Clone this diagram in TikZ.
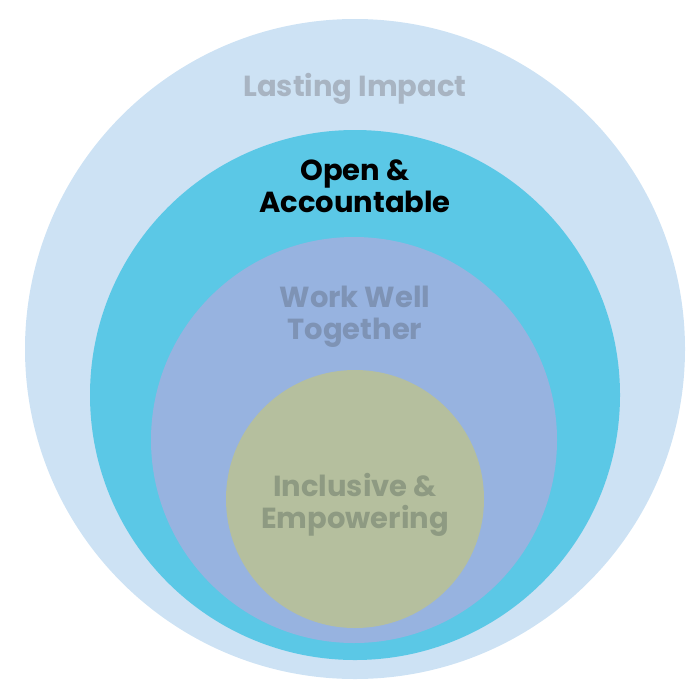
\documentclass[tikz,border=0pt]{standalone}
\usepackage{fontspec}
\setmainfont{Poppins}[BoldFont={* Bold}]
\definecolor{c1}{HTML}{CDE2F4}
\definecolor{c2}{HTML}{5BC8E6}
\definecolor{c3}{HTML}{97B3E0}
\definecolor{c4}{HTML}{B5BF9E}
\definecolor{t1}{HTML}{A8B4C2}
\definecolor{t3}{HTML}{7E93B5}
\definecolor{t4}{HTML}{8E9A82}
\begin{document}
\begin{tikzpicture}[x=1pt,y=-1pt,
  lbl/.style={font=\bfseries\fontsize{29}{32}\selectfont,align=center,inner sep=0pt}]
\useasboundingbox (0,0) rectangle (700,696);
\fill[c1] (355,349) circle (330);
\fill[c2] (355,395) circle (265);
\fill[c3] (354,440) circle (203);
\fill[c4] (355,499) circle (129);
\node[lbl,text=t1] (a) at (355,89) {Lasting Impact};
\node[lbl,text=black] (b) at (355,186) {Open \&\\Accountable};
\node[lbl,text=t3] (c) at (355,317) {Work Well\\Together};
\node[lbl,text=t4] (d) at (355,505) {Inclusive \&\\Empowering};
\end{tikzpicture}
\end{document}
